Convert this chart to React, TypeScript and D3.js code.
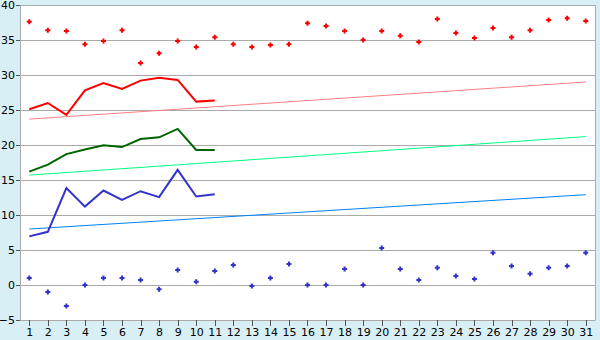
import React from "react";
import * as d3 from "d3";

const categories: number[] = Array.from({ length: 31 }, (_, i) => i + 1);

const redPoints: number[] = [37.6, 36.4, 36.3, 34.4, 34.85, 36.4, 31.7, 33.1, 34.85, 34.0, 35.4, 34.4, 34.0, 34.3, 34.4, 37.4, 37.0, 36.3, 35.0, 36.3, 35.6, 34.7, 38.0, 36.0, 35.3, 36.7, 35.4, 36.4, 37.85, 38.1, 37.7];
const bluePoints: number[] = [1.0, -1.0, -3.0, 0.0, 1.0, 1.0, 0.7, -0.6, 2.15, 0.45, 2.0, 2.85, -0.15, 1.0, 3.0, 0.0, 0.0, 2.3, 0.0, 5.3, 2.3, 0.7, 2.45, 1.3, 0.85, 4.6, 2.7, 1.6, 2.45, 2.7, 4.6];

const redLine: number[] = [25.1, 26.0, 24.3, 27.8, 28.85, 28.0, 29.2, 29.6, 29.3, 26.2, 26.35];
const greenLine: number[] = [16.2, 17.2, 18.7, 19.35, 19.95, 19.7, 20.85, 21.1, 22.3, 19.3, 19.3];
const blueLine: number[] = [6.95, 7.6, 13.85, 11.2, 13.5, 12.15, 13.4, 12.55, 16.45, 12.65, 12.95];

// trend lines: [value at first category, value at last category]
const redTrend: number[] = [23.7, 29.0];
const greenTrend: number[] = [15.7, 21.2];
const blueTrend: number[] = [8.0, 12.9];

const yTicks: number[] = [-5, 0, 5, 10, 15, 20, 25, 30, 35, 40];

const W = 600;
const H = 340;
const left = 20;
const right = 595;
const top = 5;
const bottom = 320;

export default function App() {
  const x = d3.scaleBand<number>().domain(categories).range([left, right]).padding(0);
  const cx = (c: number) => (x(c) as number) + x.bandwidth() / 2;
  const y = d3.scaleLinear().domain([-5, 40]).range([bottom, top]);
  const fmt = d3.format("d");

  const line = d3
    .line<number>()
    .x((_, i) => cx(categories[i]))
    .y((v) => y(v));

  const trendPath = (t: number[]) =>
    d3
      .line<number>()
      .x((_, i) => cx(i === 0 ? categories[0] : categories[categories.length - 1]))
      .y((v) => y(v))(t) as string;

  const marker = "M-1,-2.5L1,-2.5L1,-1L2.5,-1L2.5,1L1,1L1,2.5L-1,2.5L-1,1L-2.5,1L-2.5,-1L-1,-1Z";
  const font = "DejaVu Sans, Verdana, sans-serif";

  return (
    <svg
      width={W}
      height={H}
      style={{ position: "absolute", left: 0, top: 0, display: "block" }}
      fontFamily={font}
    >
      <rect x={0} y={0} width={W} height={H} fill="#d9eff6" />
      <rect x={left} y={top} width={right - left} height={bottom - top} fill="#ffffff" />
      {yTicks.map((t) => (
        <line key={"g" + t} x1={left} x2={right} y1={Math.round(y(t)) + 0.5} y2={Math.round(y(t)) + 0.5} stroke="#aaaaaa" strokeWidth={1} />
      ))}
      <line x1={right + 0.5} x2={right + 0.5} y1={top} y2={bottom + 0.5} stroke="#aaaaaa" />
      <line x1={left + 0.5} x2={left + 0.5} y1={top} y2={bottom + 0.5} stroke="#aaaaaa" />
      {yTicks.map((t) => (
        <g key={"yt" + t}>
          <line x1={left - 4} x2={left} y1={Math.round(y(t)) + 0.5} y2={Math.round(y(t)) + 0.5} stroke="#555555" />
          <text x={left - 5} y={y(t) + 1} textAnchor="end" dominantBaseline="middle" fontSize={11} fill="#000">
            {fmt(t).replace("-", "\u2013")}
          </text>
        </g>
      ))}
      {categories.map((c) => (
        <g key={"xt" + c}>
          <line x1={Math.round(cx(c)) + 0.5} x2={Math.round(cx(c)) + 0.5} y1={bottom} y2={bottom + 6} stroke="#555555" />
          <text x={cx(c) + 0.5} y={336} textAnchor="middle" fontSize={11} fill="#000">
            {c}
          </text>
        </g>
      ))}

      <path d={trendPath(redTrend)} stroke="#ff8080" strokeWidth={1} fill="none" />
      <path d={trendPath(greenTrend)} stroke="#00ff80" strokeWidth={1} fill="none" />
      <path d={trendPath(blueTrend)} stroke="#0080ff" strokeWidth={1} fill="none" />

      <path d={line(redLine) as string} stroke="#ff0000" strokeWidth={2} fill="none" />
      <path d={line(greenLine) as string} stroke="#006400" strokeWidth={2} fill="none" />
      <path d={line(blueLine) as string} stroke="#3333cc" strokeWidth={2} fill="none" />

      {redPoints.map((v, i) => (
        <path key={"rp" + i} d={marker} transform={`translate(${cx(categories[i])},${y(v)})`} fill="#ff0000" />
      ))}
      {bluePoints.map((v, i) => (
        <path key={"bp" + i} d={marker} transform={`translate(${cx(categories[i])},${y(v)})`} fill="#3333cc" />
      ))}
    </svg>
  );
}
